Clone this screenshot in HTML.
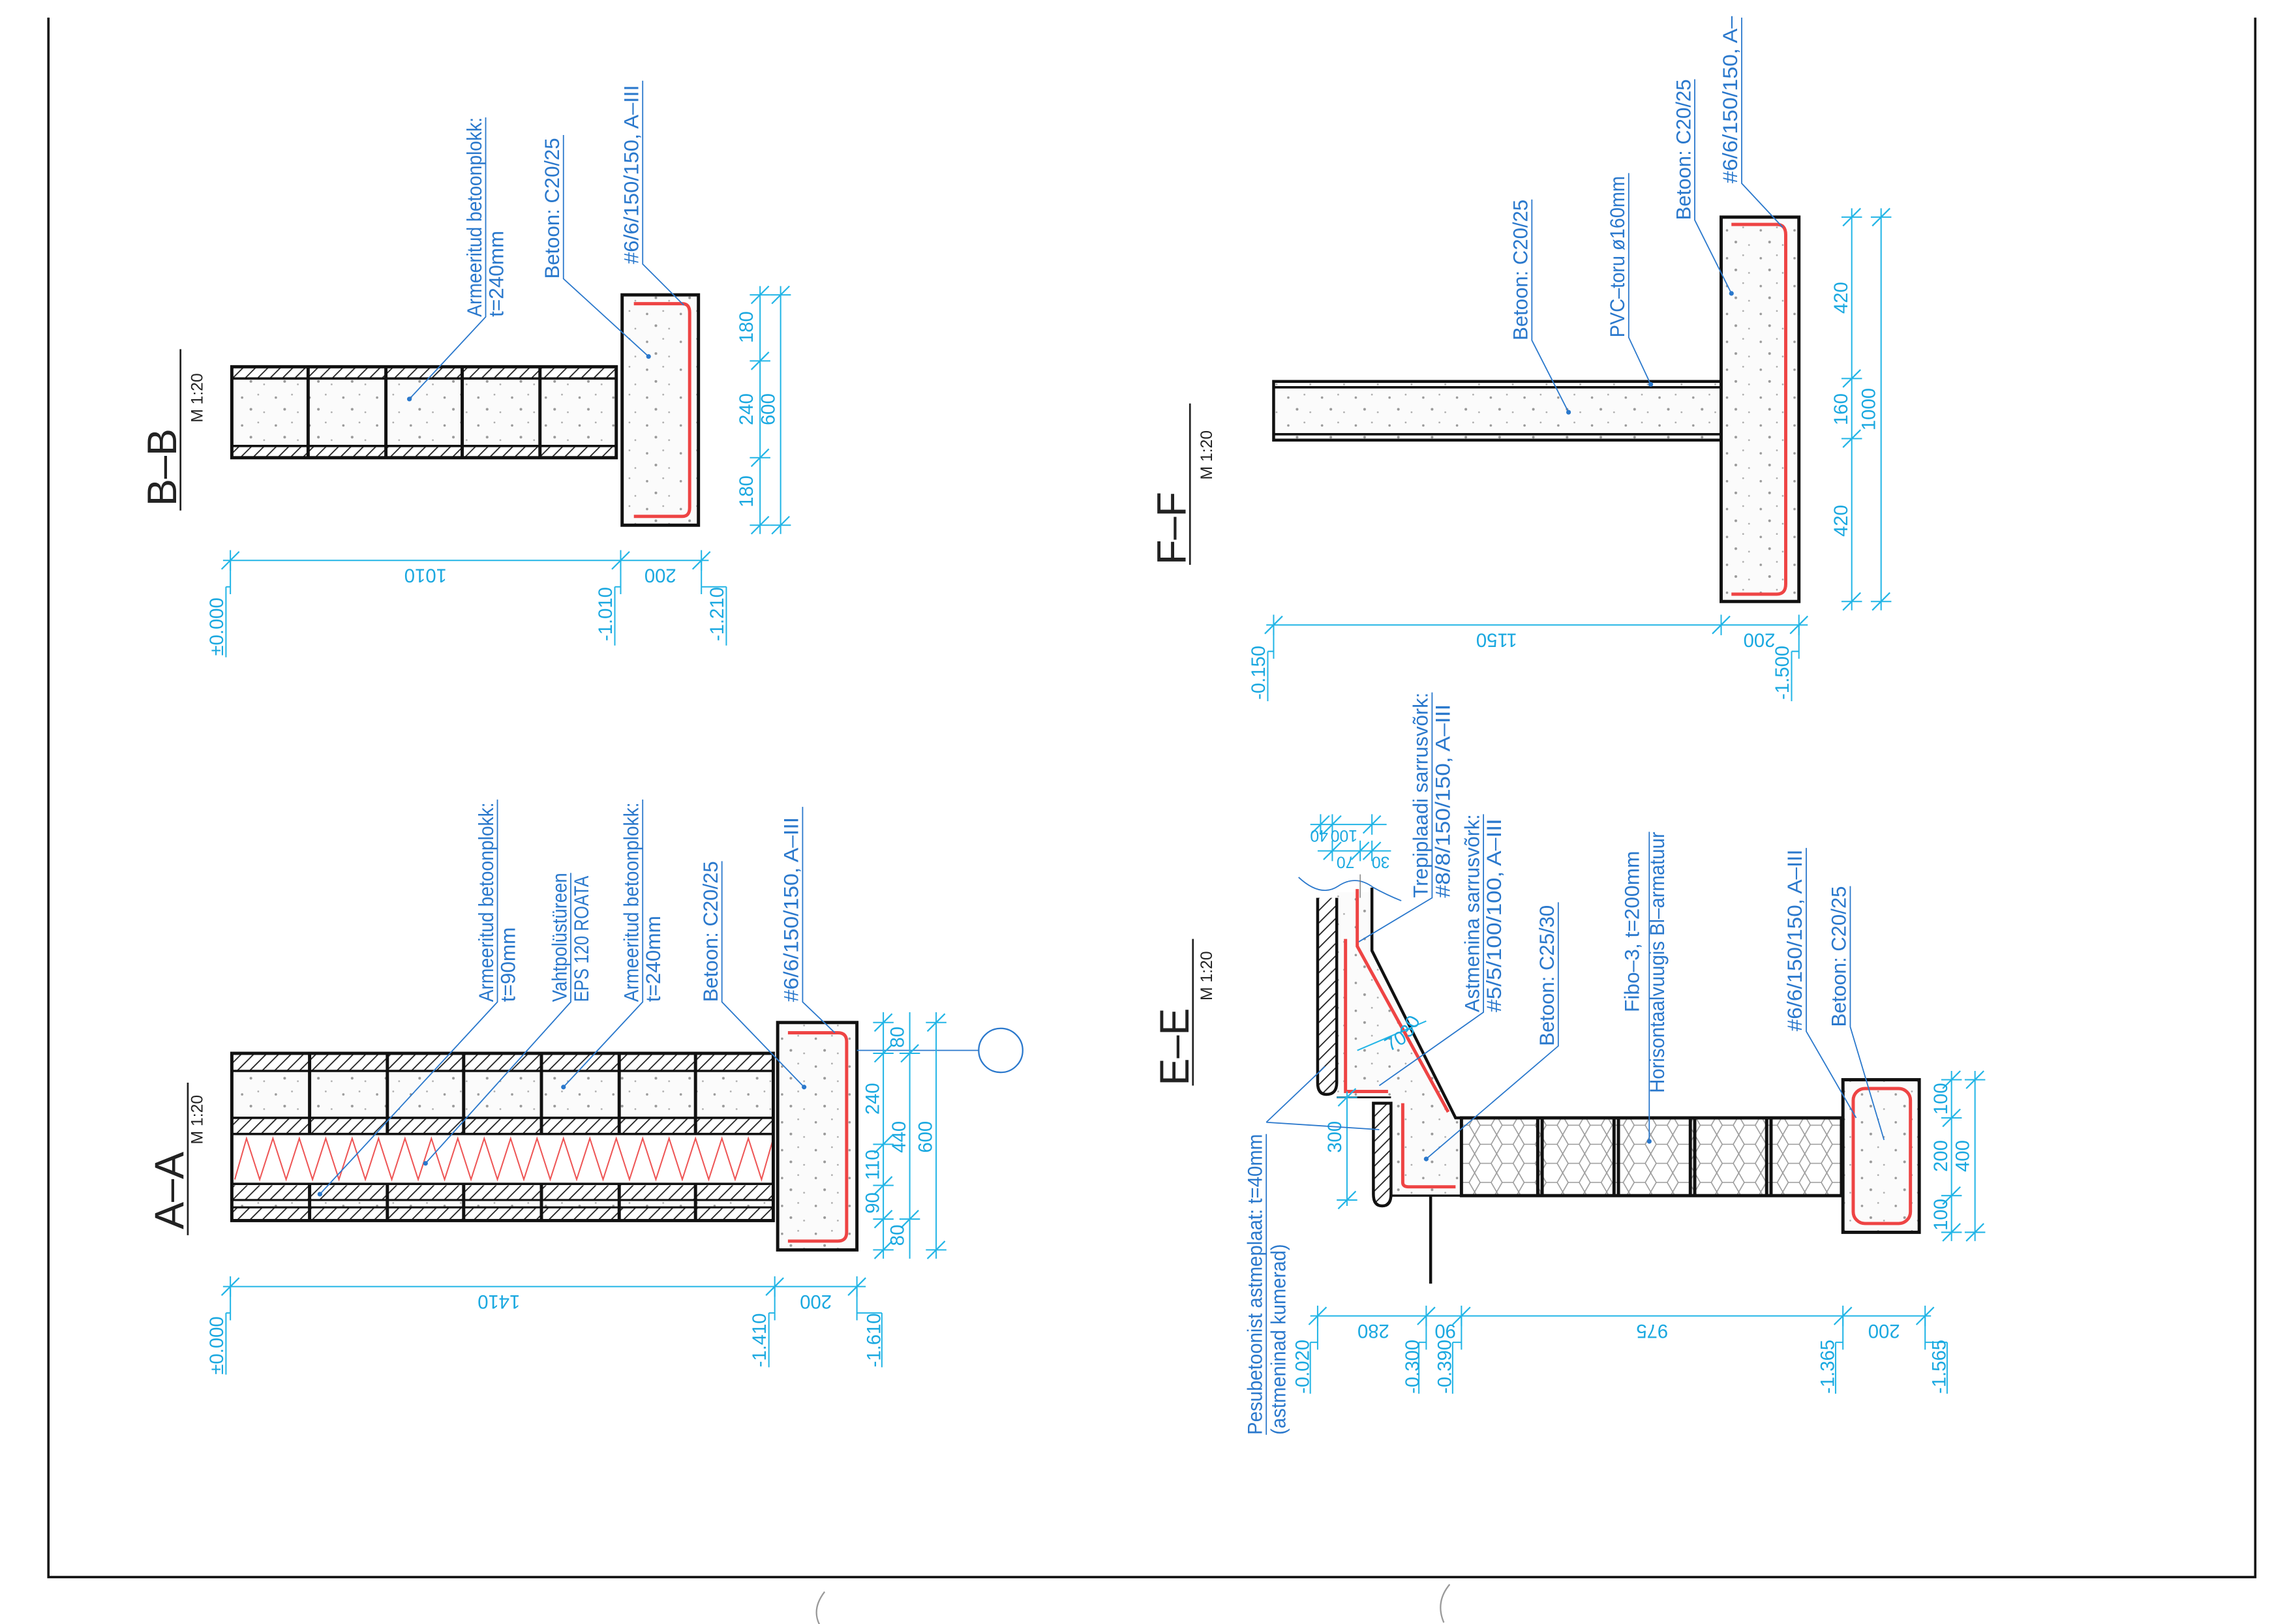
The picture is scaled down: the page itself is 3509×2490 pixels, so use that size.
<!DOCTYPE html>
<html><head><meta charset="utf-8"><style>
html,body{margin:0;padding:0;background:#fff;}
svg{display:block;}
.l{fill:#2a78cc;font-family:"Liberation Sans",sans-serif;font-size:14px;}
.d{fill:#1aa8e0;font-family:"Liberation Sans",sans-serif;font-size:13px;}
.t{fill:#222;font-family:"Liberation Sans",sans-serif;font-size:28px;}
.s{fill:#222;font-family:"Liberation Sans",sans-serif;font-size:11px;}
.ld{stroke:#2a78cc;stroke-width:0.8;fill:none;}
.dm{stroke:#22b5e6;stroke-width:0.9;fill:none;}
.k{stroke:#111;stroke-width:2.2;}
.rb{stroke:#ee4444;stroke-width:2.2;fill:none;}
</style></head><body>
<svg width="3509" height="2490" viewBox="0 0 1560 1107" preserveAspectRatio="none" xmlns="http://www.w3.org/2000/svg">
<defs>
<pattern id="h" patternUnits="userSpaceOnUse" width="6" height="6" patternTransform="rotate(45)">
<rect width="6" height="6" fill="#fff"/><line x1="0" y1="0" x2="0" y2="6" stroke="#222" stroke-width="1.6"/></pattern>
<pattern id="c" patternUnits="userSpaceOnUse" width="23" height="19">
<rect width="23" height="19" fill="#fbfbfb"/><circle cx="4" cy="5" r="0.8" fill="#999"/><circle cx="15" cy="3" r="0.6" fill="#aaa"/><circle cx="10" cy="13" r="0.9" fill="#999"/><circle cx="19" cy="15" r="0.6" fill="#aaa"/></pattern>
<pattern id="hx" patternUnits="userSpaceOnUse" width="15" height="13">
<rect width="15" height="13" fill="#fff"/><path d="M0 6.5 L3.75 0 L11.25 0 L15 6.5 L11.25 13 L3.75 13 Z" fill="none" stroke="#999" stroke-width="0.7"/></pattern>
<g id="tv"><line x1="-6" y1="6" x2="6" y2="-6" stroke="#22b5e6" stroke-width="1"/><line x1="-7" y1="0" x2="7" y2="0" stroke="#22b5e6" stroke-width="0.9"/></g>
<g id="th"><line x1="-6" y1="6" x2="6" y2="-6" stroke="#22b5e6" stroke-width="1"/><line x1="0" y1="-7" x2="0" y2="7" stroke="#22b5e6" stroke-width="0.9"/></g>
</defs>
<rect width="1560" height="1107" fill="#fff"/>
<!-- frame -->
<path d="M33 12 V1075 H1537 V12" fill="none" stroke="#111" stroke-width="1.6"/>
<path d="M562 1085 Q552 1098 560 1110" stroke="#999" fill="none"/>
<path d="M988 1080 Q978 1092 984 1106" stroke="#999" fill="none"/>

<!-- ============ B-B ============ -->
<text class="t" transform="translate(120,345) rotate(-90)">B–B</text>
<line x1="123" y1="238" x2="123" y2="348" stroke="#222" stroke-width="1.2"/>
<text class="s" transform="translate(138,288) rotate(-90)">M 1:20</text>
<rect x="158" y="258" width="262" height="46" fill="url(#c)"/>
<rect x="158" y="250" width="262" height="8" fill="url(#h)"/>
<rect x="158" y="304" width="262" height="8" fill="url(#h)"/>
<g class="k" fill="none">
<rect x="158" y="250" width="262" height="62"/>
<line x1="158" y1="258" x2="420" y2="258" stroke-width="1.6"/><line x1="158" y1="304" x2="420" y2="304" stroke-width="1.6"/>
<line x1="210" y1="250" x2="210" y2="312"/><line x1="263" y1="250" x2="263" y2="312"/><line x1="315" y1="250" x2="315" y2="312"/><line x1="368" y1="250" x2="368" y2="312"/>
</g>
<rect x="424" y="201" width="52" height="157" fill="url(#c)" stroke="#111" stroke-width="2.2"/>
<path class="rb" d="M432 207 H465 Q470 207 470 213 V346 Q470 352 465 352 H432"/>
<line class="dm" x1="518" y1="195" x2="518" y2="364"/><line class="dm" x1="532" y1="195" x2="532" y2="364"/>
<use href="#tv" x="518" y="201"/><use href="#tv" x="518" y="246"/><use href="#tv" x="518" y="312"/><use href="#tv" x="518" y="358"/>
<use href="#tv" x="532" y="201"/><use href="#tv" x="532" y="358"/>
<text class="d" text-anchor="middle" transform="translate(513,223) rotate(-90)">180</text>
<text class="d" text-anchor="middle" transform="translate(513,279) rotate(-90)">240</text>
<text class="d" text-anchor="middle" transform="translate(513,335) rotate(-90)">180</text>
<text class="d" text-anchor="middle" transform="translate(528,279) rotate(-90)">600</text>
<line class="dm" x1="152" y1="382" x2="483" y2="382"/>
<use href="#th" x="157" y="382"/><use href="#th" x="423" y="382"/><use href="#th" x="478" y="382"/>
<text class="d" text-anchor="middle" transform="translate(290,388) rotate(180)">1010</text>
<text class="d" text-anchor="middle" transform="translate(450,388) rotate(180)">200</text>
<path class="dm" d="M157 382 V405 M154 400 H157 M154 400 V448"/>
<path class="dm" d="M423 382 V405 M419 400 H423 M419 400 V440"/>
<path class="dm" d="M478 382 V405 M495 400 H478 M495 400 V440"/>
<text class="d" transform="translate(152,447) rotate(-90)">±0.000</text>
<text class="d" transform="translate(417,437) rotate(-90)">-1.010</text>
<text class="d" transform="translate(493,437) rotate(-90)">-1.210</text>
<text class="l" textLength="136" lengthAdjust="spacingAndGlyphs" transform="translate(328,216) rotate(-90)">Armeeritud betoonplokk:</text>
<text class="l" transform="translate(343,216) rotate(-90)">t=240mm</text>
<path class="ld" d="M331 80 V216 L279 272"/><circle cx="279" cy="272" r="1.6" fill="#2a78cc"/>
<text class="l" textLength="96" lengthAdjust="spacingAndGlyphs" transform="translate(381,190) rotate(-90)">Betoon: C20/25</text>
<path class="ld" d="M384 92 V190 L442 243"/><circle cx="442" cy="243" r="1.6" fill="#2a78cc"/>
<text class="l" textLength="122" lengthAdjust="spacingAndGlyphs" transform="translate(435,180) rotate(-90)">#6/6/150/150, A–III</text>
<path class="ld" d="M438 55 V180 L466 208"/>

<!-- ============ A-A ============ -->
<text class="t" transform="translate(125,838) rotate(-90)">A–A</text>
<line x1="128" y1="738" x2="128" y2="842" stroke="#222" stroke-width="1.2"/>
<text class="s" transform="translate(138,780) rotate(-90)">M 1:20</text>
<rect x="158" y="730" width="369" height="32" fill="url(#c)"/>
<rect x="158" y="718" width="369" height="12" fill="url(#h)"/>
<rect x="158" y="762" width="369" height="11" fill="url(#h)"/>
<rect x="158" y="808" width="369" height="10" fill="url(#h)"/>
<rect x="158" y="818" width="369" height="5" fill="url(#c)"/>
<rect x="158" y="823" width="369" height="9" fill="url(#h)"/>
<polyline fill="none" stroke="#ee5555" stroke-width="0.9" points="160,804 168,776 177,804 186,776 195,804 204,776 213,804 222,776 231,804 240,776 249,804 258,776 267,804 276,776 285,804 294,776 303,804 312,776 321,804 330,776 339,804 348,776 357,804 366,776 375,804 384,776 393,804 402,776 411,804 420,776 429,804 438,776 447,804 456,776 465,804 474,776 483,804 492,776 501,804 510,776 519,804 527,776"/>
<g class="k" fill="none">
<rect x="158" y="718" width="369" height="114"/>
<line x1="158" y1="730" x2="527" y2="730" stroke-width="1.6"/><line x1="158" y1="762" x2="527" y2="762" stroke-width="1.6"/>
<line x1="158" y1="773" x2="527" y2="773" stroke-width="1.6"/><line x1="158" y1="807" x2="527" y2="807" stroke-width="1.6"/>
<line x1="158" y1="818" x2="527" y2="818" stroke-width="1.4"/><line x1="158" y1="823" x2="527" y2="823" stroke-width="1.4"/>
<path d="M211 718 V773 M264 718 V773 M316 718 V773 M369 718 V773 M422 718 V773 M474 718 V773"/>
<path d="M211 807 V832 M264 807 V832 M316 807 V832 M369 807 V832 M422 807 V832 M474 807 V832"/>
</g>
<rect x="530" y="697" width="54" height="155" fill="url(#c)" stroke="#111" stroke-width="2.2"/>
<path class="rb" d="M537 704 H571 Q577 704 577 710 V840 Q577 846 571 846 H537"/>
<line class="ld" x1="584" y1="716" x2="667" y2="716"/>
<circle cx="682" cy="716" r="15" fill="none" stroke="#2a78cc" stroke-width="1"/>
<line class="dm" x1="602" y1="690" x2="602" y2="858"/><line class="dm" x1="620" y1="690" x2="620" y2="858"/><line class="dm" x1="638" y1="690" x2="638" y2="858"/>
<use href="#tv" x="602" y="697"/><use href="#tv" x="602" y="718"/><use href="#tv" x="602" y="780"/><use href="#tv" x="602" y="808"/><use href="#tv" x="602" y="831"/><use href="#tv" x="602" y="852"/>
<use href="#tv" x="620" y="718"/><use href="#tv" x="620" y="831"/><use href="#tv" x="638" y="697"/><use href="#tv" x="638" y="852"/>
<text class="d" text-anchor="middle" transform="translate(616,707) rotate(-90)">80</text>
<text class="d" text-anchor="middle" transform="translate(599,749) rotate(-90)">240</text>
<text class="d" text-anchor="middle" transform="translate(599,794) rotate(-90)">110</text>
<text class="d" text-anchor="middle" transform="translate(599,820) rotate(-90)">90</text>
<text class="d" text-anchor="middle" transform="translate(616,842) rotate(-90)">80</text>
<text class="d" text-anchor="middle" transform="translate(617,775) rotate(-90)">440</text>
<text class="d" text-anchor="middle" transform="translate(635,775) rotate(-90)">600</text>
<line class="dm" x1="152" y1="877" x2="590" y2="877"/>
<use href="#th" x="157" y="877"/><use href="#th" x="528" y="877"/><use href="#th" x="584" y="877"/>
<text class="d" text-anchor="middle" transform="translate(340,883) rotate(180)">1410</text>
<text class="d" text-anchor="middle" transform="translate(556,883) rotate(180)">200</text>
<path class="dm" d="M157 877 V900 M154 895 H157 M154 895 V937"/>
<path class="dm" d="M528 877 V900 M524 895 H528 M524 895 V932"/>
<path class="dm" d="M584 877 V900 M601 895 H584 M601 895 V932"/>
<text class="d" transform="translate(152,937) rotate(-90)">±0.000</text>
<text class="d" transform="translate(522,932) rotate(-90)">-1.410</text>
<text class="d" transform="translate(600,932) rotate(-90)">-1.610</text>
<text class="l" textLength="136" lengthAdjust="spacingAndGlyphs" transform="translate(336,683) rotate(-90)">Armeeritud betoonplokk:</text>
<text class="l" transform="translate(351,683) rotate(-90)">t=90mm</text>
<path class="ld" d="M339 545 V683 L218 814"/><circle cx="218" cy="814" r="1.6" fill="#2a78cc"/>
<text class="l" textLength="88" lengthAdjust="spacingAndGlyphs" transform="translate(386,683) rotate(-90)">Vahtpolüstüreen</text>
<text class="l" textLength="86" lengthAdjust="spacingAndGlyphs" transform="translate(401,683) rotate(-90)">EPS 120 ROATA</text>
<path class="ld" d="M389 595 V683 L290 793"/><circle cx="290" cy="793" r="1.6" fill="#2a78cc"/>
<text class="l" textLength="136" lengthAdjust="spacingAndGlyphs" transform="translate(435,683) rotate(-90)">Armeeritud betoonplokk:</text>
<text class="l" transform="translate(450,683) rotate(-90)">t=240mm</text>
<path class="ld" d="M438 545 V683 L384 741"/><circle cx="384" cy="741" r="1.6" fill="#2a78cc"/>
<text class="l" textLength="96" lengthAdjust="spacingAndGlyphs" transform="translate(489,683) rotate(-90)">Betoon: C20/25</text>
<path class="ld" d="M492 587 V683 L548 741"/><circle cx="548" cy="741" r="1.6" fill="#2a78cc"/>
<text class="l" textLength="126" lengthAdjust="spacingAndGlyphs" transform="translate(544,683) rotate(-90)">#6/6/150/150, A–III</text>
<path class="ld" d="M547 550 V683 L569 704"/>

<!-- ============ F-F ============ -->
<text class="t" transform="translate(808,385) rotate(-90)">F–F</text>
<line x1="811" y1="275" x2="811" y2="385" stroke="#222" stroke-width="1.2"/>
<text class="s" transform="translate(826,327) rotate(-90)">M 1:20</text>
<rect x="868" y="260" width="305" height="40" fill="url(#c)" stroke="#111" stroke-width="2"/>
<line x1="868" y1="264" x2="1173" y2="264" stroke="#111" stroke-width="1.6"/>
<line x1="868" y1="296" x2="1173" y2="296" stroke="#111" stroke-width="1.6"/>
<rect x="1173" y="148" width="53" height="262" fill="url(#c)" stroke="#111" stroke-width="2.2"/>
<path class="rb" d="M1180 153 H1211 Q1217 153 1217 160 V398 Q1217 405 1211 405 H1180"/>
<line class="dm" x1="1262" y1="142" x2="1262" y2="416"/><line class="dm" x1="1282" y1="142" x2="1282" y2="416"/>
<use href="#tv" x="1262" y="148"/><use href="#tv" x="1262" y="258"/><use href="#tv" x="1262" y="299"/><use href="#tv" x="1262" y="410"/>
<use href="#tv" x="1282" y="148"/><use href="#tv" x="1282" y="410"/>
<text class="d" text-anchor="middle" transform="translate(1259,203) rotate(-90)">420</text>
<text class="d" text-anchor="middle" transform="translate(1259,279) rotate(-90)">160</text>
<text class="d" text-anchor="middle" transform="translate(1259,355) rotate(-90)">420</text>
<text class="d" text-anchor="middle" transform="translate(1278,279) rotate(-90)">1000</text>
<line class="dm" x1="863" y1="426" x2="1232" y2="426"/>
<use href="#th" x="868" y="426"/><use href="#th" x="1173" y="426"/><use href="#th" x="1226" y="426"/>
<text class="d" text-anchor="middle" transform="translate(1020,432) rotate(180)">1150</text>
<text class="d" text-anchor="middle" transform="translate(1199,432) rotate(180)">200</text>
<path class="dm" d="M868 426 V449 M864 444 H868 M864 444 V478"/>
<path class="dm" d="M1226 426 V449 M1221 444 H1226 M1221 444 V478"/>
<text class="d" transform="translate(862,477) rotate(-90)">-0.150</text>
<text class="d" transform="translate(1219,477) rotate(-90)">-1.500</text>
<text class="l" textLength="96" lengthAdjust="spacingAndGlyphs" transform="translate(1041,232) rotate(-90)">Betoon: C20/25</text>
<path class="ld" d="M1044 136 V232 L1069 281"/><circle cx="1069" cy="281" r="1.6" fill="#2a78cc"/>
<text class="l" textLength="110" lengthAdjust="spacingAndGlyphs" transform="translate(1107,230) rotate(-90)">PVC–toru ø160mm</text>
<path class="ld" d="M1110 118 V230 L1125 262"/><circle cx="1125" cy="262" r="1.6" fill="#2a78cc"/>
<text class="l" textLength="96" lengthAdjust="spacingAndGlyphs" transform="translate(1152,150) rotate(-90)">Betoon: C20/25</text>
<path class="ld" d="M1155 54 V150 L1180 200"/><circle cx="1180" cy="200" r="1.6" fill="#2a78cc"/>
<text class="l" textLength="114" lengthAdjust="spacingAndGlyphs" transform="translate(1184,125) rotate(-90)">#6/6/150/150, A–</text>
<path class="ld" d="M1187 12 V125 L1215 155"/>

<!-- ============ E-E ============ -->
<text class="t" transform="translate(810,740) rotate(-90)">E–E</text>
<line x1="813" y1="640" x2="813" y2="740" stroke="#222" stroke-width="1.2"/>
<text class="s" transform="translate(826,682) rotate(-90)">M 1:20</text>
<path d="M911 608 H935 V648 L992 762 H996 V815 H948 V748 H911 Z" fill="url(#c)" stroke="none"/>
<path d="M935 605 V648 L992 762 H996" fill="none" stroke="#111" stroke-width="2"/>
<path d="M948 815 H996" fill="none" stroke="#111" stroke-width="1.5"/>
<path d="M911 748 H948" fill="none" stroke="#111" stroke-width="1.2"/>
<path d="M898 612 V738 Q898 746 904 746 Q911 746 911 738 V612" fill="url(#h)" stroke="#111" stroke-width="2"/>
<path d="M936 752 V814 Q936 822 942 822 Q948 822 948 814 V752 Z" fill="url(#h)" stroke="#111" stroke-width="2"/>
<path d="M885 598 Q900 612 912 604 Q924 596 936 605 Q945 610 955 614" fill="none" stroke="#2a78cc" stroke-width="0.8"/>
<line x1="927" y1="596" x2="927" y2="612" stroke="#777" stroke-width="0.6"/>
<line x1="975" y1="815" x2="975" y2="875" stroke="#111" stroke-width="2"/>
<path class="rb" d="M917 640 V744 H946" stroke-width="1.8"/>
<path class="rb" d="M925 606 V645 L987 758" stroke-width="1.6"/>
<path class="rb" d="M956 752 V806 Q956 809 960 809 H992" stroke-width="1.8"/>
<rect x="996" y="762" width="259" height="53" fill="url(#hx)"/>
<g fill="none" stroke="#111" stroke-width="2.2">
<rect x="996" y="762" width="259" height="53"/>
<path d="M1048 762 V815 M1051 762 V815 M1100 762 V815 M1103 762 V815 M1152 762 V815 M1155 762 V815 M1204 762 V815 M1207 762 V815"/>
</g>
<rect x="1256" y="736" width="52" height="104" fill="url(#c)" stroke="#111" stroke-width="2.2"/>
<rect x="1263" y="742" width="39" height="92" rx="8" class="rb"/>
<line class="dm" x1="1330" y1="730" x2="1330" y2="846"/><line class="dm" x1="1346" y1="730" x2="1346" y2="846"/>
<use href="#tv" x="1330" y="736"/><use href="#tv" x="1330" y="762"/><use href="#tv" x="1330" y="815"/><use href="#tv" x="1330" y="840"/>
<use href="#tv" x="1346" y="736"/><use href="#tv" x="1346" y="840"/>
<text class="d" text-anchor="middle" transform="translate(1327,749) rotate(-90)">100</text>
<text class="d" text-anchor="middle" transform="translate(1327,788) rotate(-90)">200</text>
<text class="d" text-anchor="middle" transform="translate(1327,828) rotate(-90)">100</text>
<text class="d" text-anchor="middle" transform="translate(1342,788) rotate(-90)">400</text>
<line class="dm" x1="918" y1="744" x2="918" y2="822"/>
<use href="#tv" x="918" y="748"/><use href="#tv" x="918" y="818"/>
<text class="d" text-anchor="middle" transform="translate(914,775) rotate(-90)">300</text>
<line class="dm" x1="893" y1="562" x2="945" y2="562"/><line class="dm" x1="898" y1="580" x2="948" y2="580"/>
<use href="#th" x="900" y="562"/><use href="#th" x="908" y="562"/><use href="#th" x="935" y="562"/>
<use href="#th" x="908" y="580"/><use href="#th" x="927" y="580"/><use href="#th" x="935" y="580"/>
<text class="d" style="font-size:11px" text-anchor="middle" transform="translate(916,566) rotate(180)">100</text>
<text class="d" style="font-size:11px" text-anchor="middle" transform="translate(899,566) rotate(180)">40</text>
<text class="d" style="font-size:11px" text-anchor="middle" transform="translate(917,584) rotate(180)">70</text>
<text class="d" style="font-size:11px" text-anchor="middle" transform="translate(941,584) rotate(180)">30</text>
<line class="dm" x1="925" y1="716" x2="972" y2="696"/>
<text class="d" transform="translate(947,717) rotate(-30)">70</text>
<text class="d" transform="translate(961,708) rotate(-60)">30</text>
<line class="dm" x1="893" y1="897" x2="1316" y2="897"/>
<use href="#th" x="898" y="897"/><use href="#th" x="972" y="897"/><use href="#th" x="996" y="897"/><use href="#th" x="1256" y="897"/><use href="#th" x="1312" y="897"/>
<text class="d" text-anchor="middle" transform="translate(936,903) rotate(180)">280</text>
<text class="d" text-anchor="middle" transform="translate(985,903) rotate(180)">90</text>
<text class="d" text-anchor="middle" transform="translate(1126,903) rotate(180)">975</text>
<text class="d" text-anchor="middle" transform="translate(1284,903) rotate(180)">200</text>
<path class="dm" d="M898 897 V920 M893 915 H898 M893 915 V950"/>
<path class="dm" d="M972 897 V920 M967 915 H972 M967 915 V950"/>
<path class="dm" d="M996 897 V920 M990 915 H996 M990 915 V950"/>
<path class="dm" d="M1256 897 V920 M1251 915 H1256 M1251 915 V950"/>
<path class="dm" d="M1312 897 V920 M1327 915 H1312 M1327 915 V950"/>
<text class="d" transform="translate(892,950) rotate(-90)">-0.020</text>
<text class="d" transform="translate(967,950) rotate(-90)">-0.300</text>
<text class="d" transform="translate(989,950) rotate(-90)">-0.390</text>
<text class="d" transform="translate(1250,950) rotate(-90)">-1.365</text>
<text class="d" transform="translate(1326,950) rotate(-90)">-1.565</text>
<text class="l" textLength="205" lengthAdjust="spacingAndGlyphs" transform="translate(860,978) rotate(-90)">Pesubetoonist astmeplaat: t=40mm</text>
<text class="l" textLength="130" lengthAdjust="spacingAndGlyphs" transform="translate(876,978) rotate(-90)">(astmeninad kumerad)</text>
<path class="ld" d="M863 773 V978 M863 765 L903 727 M863 765 L940 770"/>
<text class="l" textLength="140" lengthAdjust="spacingAndGlyphs" transform="translate(973,612) rotate(-90)">Trepiplaadi sarrusvõrk:</text>
<text class="l" textLength="132" lengthAdjust="spacingAndGlyphs" transform="translate(988,612) rotate(-90)">#8/8/150/150, A–III</text>
<path class="ld" d="M976 472 V612 L926 642"/>
<text class="l" textLength="135" lengthAdjust="spacingAndGlyphs" transform="translate(1008,690) rotate(-90)">Astmenina sarrusvõrk:</text>
<text class="l" textLength="132" lengthAdjust="spacingAndGlyphs" transform="translate(1023,690) rotate(-90)">#5/5/100/100, A–III</text>
<path class="ld" d="M1011 555 V690 L940 740"/>
<text class="l" textLength="96" lengthAdjust="spacingAndGlyphs" transform="translate(1059,713) rotate(-90)">Betoon: C25/30</text>
<path class="ld" d="M1062 615 V713 L972 790"/><circle cx="972" cy="790" r="1.6" fill="#2a78cc"/>
<text class="l" textLength="110" lengthAdjust="spacingAndGlyphs" transform="translate(1117,690) rotate(-90)">Fibo–3, t=200mm</text>
<text class="l" textLength="178" lengthAdjust="spacingAndGlyphs" transform="translate(1134,745) rotate(-90)">Horisontaalvuugis Bl–armatuur</text>
<path class="ld" d="M1124 567 V778"/><circle cx="1124" cy="778" r="1.6" fill="#2a78cc"/>
<text class="l" textLength="124" lengthAdjust="spacingAndGlyphs" transform="translate(1228,703) rotate(-90)">#6/6/150/150, A–III</text>
<path class="ld" d="M1231 578 V703 L1265 762"/>
<text class="l" textLength="96" lengthAdjust="spacingAndGlyphs" transform="translate(1258,700) rotate(-90)">Betoon: C20/25</text>
<path class="ld" d="M1261 604 V700 L1284 777"/>
</svg>
</body></html>
